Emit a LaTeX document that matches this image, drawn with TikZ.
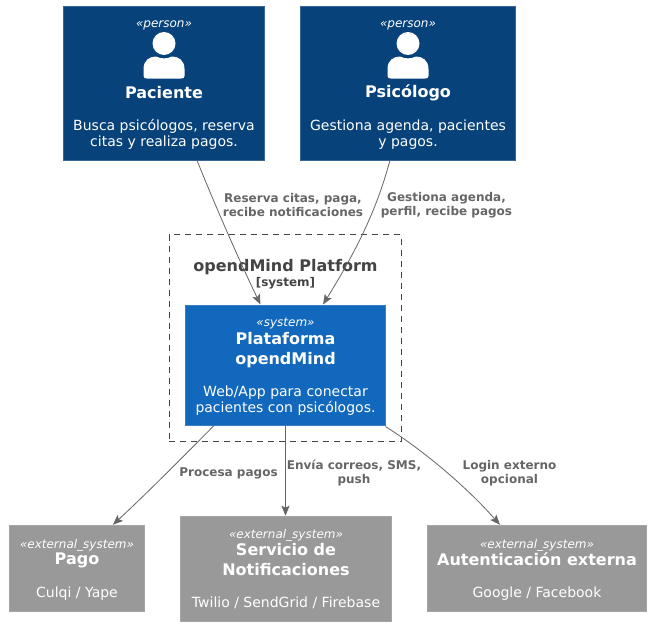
\documentclass[tikz,border=0pt]{standalone}
\usepackage{fontspec}
\setmainfont{DejaVu Sans}
\usetikzlibrary{arrows.meta}
\definecolor{personblue}{HTML}{08427B}
\definecolor{personedge}{HTML}{3A6595}
\definecolor{sysblue}{HTML}{1168BD}
\definecolor{sysedge}{HTML}{3C7FC0}
\definecolor{extgray}{HTML}{999999}
\definecolor{extedge}{HTML}{A6A6A6}
\definecolor{linkgray}{HTML}{666666}
\definecolor{titlegray}{HTML}{444444}
\tikzset{
  box/.style={rectangle,inner sep=0pt,line width=0.5pt},
  personbox/.style={box,fill=personblue,draw=personedge},
  sysbox/.style={box,fill=sysblue,draw=sysedge},
  extbox/.style={box,fill=extgray,draw=extedge},
  stereo/.style={text=white,font=\fontsize{12}{14}\selectfont\itshape,inner sep=0pt,anchor=center},
  titletext/.style={text=white,font=\fontsize{16}{19.5}\selectfont\bfseries,align=center,inner sep=0pt},
  desctext/.style={text=white,font=\fontsize{14}{16.3}\selectfont,align=center,inner sep=0pt},
  linklabel/.style={text=linkgray,font=\fontsize{12}{14}\selectfont\bfseries,align=center,inner sep=0pt},
  link/.style={draw=linkgray,line width=0.8pt,-{Stealth[length=10pt,width=8pt,inset=2pt]}},
  boundary/.style={draw=titlegray,line width=0.7pt,dash pattern=on 6pt off 5pt,inner sep=0pt},
  pics/usericon/.style={code={
    \fill[white] (0,-12.5) circle (11.5pt);
    \fill[white] (-20.5,20) -- (-20.5,13) .. controls (-20.5,4) and (-14,0.5) .. (-8,0.5)
       .. controls (-3,3) and (3,3) .. (8,0.5) .. controls (14,0.5) and (20.5,4) .. (20.5,13) -- (20.5,20)
       .. controls (20.5,22) and (19,22.5) .. (17,22.5) -- (-17,22.5)
       .. controls (-19,22.5) and (-20.5,22) .. (-20.5,20) -- cycle;
  }}
}
\begin{document}
\begin{tikzpicture}[x=1pt,y=-1pt]
\useasboundingbox (0,0) rectangle (664,637);
\fill[white] (0,0) rectangle (664,637);

% boundary
\node[boundary,minimum width=232pt,minimum height=207pt] (bound) at (285,338) {};
\node[text=titlegray,font=\fontsize{16}{19}\selectfont\bfseries,inner sep=0pt] (boundtitle) at (285.5,267) {opendMind Platform};
\node[text=titlegray,font=\fontsize{12}{14}\selectfont\bfseries,inner sep=0pt] (boundtag) at (285.5,283) {[system]};

% boxes
\node[personbox,minimum width=201pt,minimum height=154pt] (pac) at (163.95,83) {};
\node[personbox,minimum width=215pt,minimum height=154pt] (psi) at (407.95,83) {};
\node[sysbox,minimum width=199.8pt,minimum height=120.5pt] (plat) at (285.5,365) {};
\node[extbox,minimum width=135pt,minimum height=86pt] (pago) at (76.95,568) {};
\node[extbox,minimum width=211pt,minimum height=105pt] (noti) at (285.95,568.5) {};
\node[extbox,minimum width=219pt,minimum height=86pt] (auth) at (536.95,568) {};

% Paciente
\node[stereo] (pacst) at (164,25) {«person»};
\pic at (164,56) {usericon};
\node[titletext] (pacname) at (164,93) {Paciente};
\node[desctext] (pacdesc) at (164,134.5) {Busca psicólogos, reserva\\citas y realiza pagos.};

% Psicologo
\node[stereo] (psist) at (408,25) {«person»};
\pic at (408,56) {usericon};
\node[titletext] (psiname) at (408,93) {Psicólogo};
\node[desctext] (psidesc) at (408,134.5) {Gestiona agenda, pacientes\\y pagos.};

% Plataforma
\node[stereo] (platst) at (285.5,324) {«system»};
\node[titletext] (platname) at (285.5,350) {Plataforma\\opendMind};
\node[desctext] (platdesc) at (285.5,400.5) {Web/App para conectar\\pacientes con psicólogos.};

% Pago
\node[stereo] (pagost) at (77,545) {«external\_system»};
\node[titletext] (pagoname) at (77,560) {Pago};
\node[desctext] (pagodesc) at (77,594) {Culqi / Yape};

% Notificaciones
\node[stereo] (notist) at (286,535) {«external\_system»};
\node[titletext] (notiname) at (286,559.5) {Servicio de\\Notificaciones};
\node[desctext] (notidesc) at (286,603.2) {Twilio / SendGrid / Firebase};

% Autenticacion
\node[stereo] (authst) at (537,545) {«external\_system»};
\node[titletext] (authname) at (537,559.5) {Autenticación externa};
\node[desctext] (authdesc) at (537,594) {Google / Facebook};

% connectors
\draw[link] ([xshift=33pt]pac.south) .. controls (215,205) and (238,258) .. ([xshift=-25pt]plat.north);
\draw[link] ([xshift=-18pt]psi.south) .. controls (378,205) and (360,245) .. ([xshift=37.5pt]plat.north);
\draw[link] ([xshift=-71.5pt]plat.south) .. controls (180,460) and (145,495) .. ([xshift=36pt]pago.north);
\draw[link] (plat.south) -- (plat.south |- noti.north);
\draw[link] ([xshift=100pt,yshift=-1pt]plat.south) .. controls (418,447) and (462,482) .. ([xshift=-37pt]auth.north);

% connector labels
\node[linklabel] (l1) at (293,205.5) {Reserva citas, paga,\\recibe notificaciones};
\node[linklabel] (l2) at (446.5,205.5) {Gestiona agenda,\\perfil, recibe pagos};
\node[linklabel] (l3) at (228.5,473) {Procesa pagos};
\node[linklabel] (l4) at (354,473) {Envía correos, SMS,\\push};
\node[linklabel] (l5) at (509.5,473) {Login externo\\opcional};
\end{tikzpicture}
\end{document}
